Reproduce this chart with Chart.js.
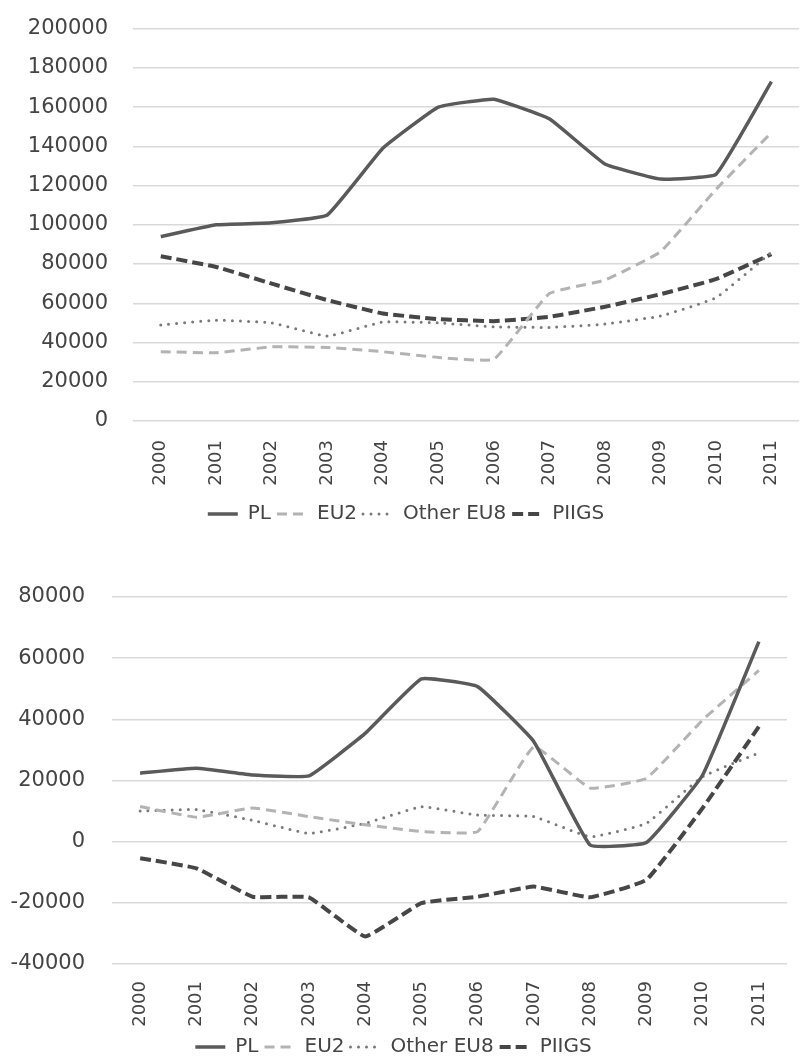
<!DOCTYPE html>
<html>
<head>
<meta charset="utf-8">
<script src="https://cdn.jsdelivr.net/npm/chart.js@4.4.1/dist/chart.umd.min.js"></script>
<style>
  html, body { margin: 0; padding: 0; background: #fff; overflow: hidden; }
  .wrap { position: absolute; left: 0; }
  #topWrap { top: -9px; width: 812px; height: 554px; }
  #botWrap { top: 545px; width: 803px; height: 523px; }
</style>
</head>
<body>
<div class="wrap" id="topWrap"><canvas id="topChart" width="812" height="554"></canvas></div>
<div class="wrap" id="botWrap"><canvas id="botChart" width="803" height="523"></canvas></div>
<script>
const years = ['2000', '2001', '2002', '2003', '2004', '2005', '2006', '2007', '2008', '2009', '2010', '2011'];
const seriesNames = ['PL', 'EU2', 'Other EU8', 'PIIGS'];

// top panel: stocks
const topPL    = [94000, 100000, 101000, 105000, 139000, 160000, 164000, 154000, 131000, 123300, 125700, 173000];
const topEU2   = [35300, 34800, 37800, 37500, 35300, 32400, 31400, 65000, 71800, 86200, 118000, 147000];
const topEU8   = [48900, 51400, 50000, 43300, 50500, 50000, 48000, 47700, 49400, 53500, 62800, 86000];
const topPIIGS = [84000, 78500, 70000, 61600, 54800, 51900, 50900, 53100, 58200, 64600, 72300, 85000];
const topTicks = { min: 0, max: 200000, step: 20000 };

// bottom panel: changes
const botPL    = [22400, 24000, 21800, 21500, 35400, 53200, 50700, 32700, -1100, -300, 21800, 65400];
const botEU2   = [11500, 8000, 11000, 8200, 5500, 3300, 3300, 31000, 17500, 20700, 39800, 56000];
const botEU8   = [10000, 10500, 7000, 2700, 6000, 11400, 8700, 8200, 1600, 6000, 21300, 29000];
const botPIIGS = [-5400, -8700, -18000, -18200, -31000, -20100, -18000, -14700, -18200, -12500, 11000, 37600];
const botTicks = { min: -40000, max: 80000, step: 20000 };

const FONT = 'DejaVu Sans';
const TEXT = '#444444';

const styles = [
  { color: '#5a5a5a', width: 3.5, dash: [], cap: 'butt' },
  { color: '#b3b3b3', width: 3, dash: [10, 6], cap: 'butt' },
  { color: '#7a7a7a', width: 3, dash: [0, 8], cap: 'round' },
  { color: '#464646', width: 4, dash: [11, 5], cap: 'butt' }
];

function makeDatasets(values) {
  return values.map((data, i) => ({
    label: seriesNames[i],
    data,
    borderColor: styles[i].color,
    backgroundColor: styles[i].color,
    borderWidth: styles[i].width,
    borderDash: styles[i].dash,
    borderCapStyle: styles[i].cap,
    pointRadius: 0,
    tension: 0.1,
    fill: false
  }));
}

// legend samples should carry the dataset's dash pattern
function legendLabels(chart) {
  return Chart.defaults.plugins.legend.labels.generateLabels(chart).map((item) => {
    const ds = chart.data.datasets[item.datasetIndex];
    return Object.assign(item, {
      lineDash: ds.borderDash, lineWidth: ds.borderWidth,
      lineCap: ds.borderCapStyle, strokeStyle: ds.borderColor
    });
  });
}

function makeChart(id, values, ticks, o) {
  const ctx = document.getElementById(id).getContext('2d');
  return new Chart(ctx, {
    type: 'line',
    data: { labels: years, datasets: makeDatasets(values) },
    options: {
      responsive: false,
      animation: false,
      layout: { padding: { top: o.padTop, bottom: o.padBottom, left: 0, right: o.padRight } },
      plugins: {
        tooltip: { enabled: false },
        legend: {
          position: 'bottom',
          labels: {
            usePointStyle: true,
            pointStyle: 'line',
            pointStyleWidth: 30,
            boxHeight: 14,
            padding: 6,
            color: TEXT,
            font: { family: FONT, size: 20 },
            generateLabels: legendLabels
          }
        }
      },
      scales: {
        x: {
          offset: true,
          grid: { display: false, drawTicks: false },
          border: { display: false },
          ticks: {
            minRotation: 90, maxRotation: 90, padding: o.xPad,
            color: TEXT, font: { family: FONT, size: 18 }
          },
          afterFit: (s) => { s.height = o.xH; }
        },
        y: {
          min: ticks.min, max: ticks.max,
          grid: { color: '#d9d9d9', lineWidth: 1.5, drawTicks: false },
          border: { display: false },
          ticks: {
            stepSize: ticks.step, padding: o.tickPad,
            color: TEXT, font: { family: FONT, size: 21 },
            callback: (v) => String(v)
          },
          afterFit: (s) => { s.width = o.yW; }
        }
      }
    }
  });
}

makeChart('topChart', [topPL, topEU2, topEU8, topPIIGS], topTicks,
  { yW: 133, tickPad: 25, padTop: 0, padBottom: 11, padRight: 0, xH: 77, xPad: 19 });
makeChart('botChart', [botPL, botEU2, botEU8, botPIIGS], botTicks,
  { yW: 112, tickPad: 27, padTop: 52, padBottom: 1, padRight: 16, xH: 67, xPad: 17 });
</script>
</body>
</html>
